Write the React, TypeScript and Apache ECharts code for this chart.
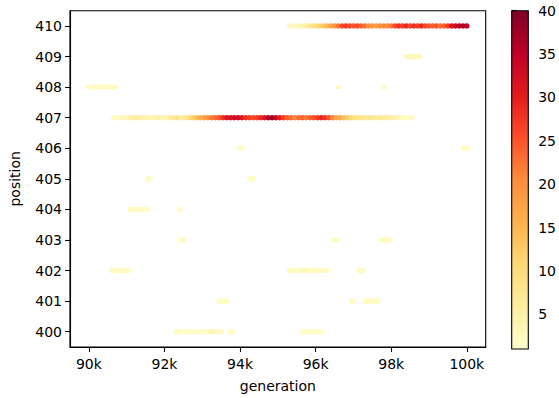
import React, { useEffect, useRef } from "react";
import * as echarts from "echarts";

// Each segment: [position, first generation, generation step, values]
type Seg = [number, number, number, number[]];

const xTicks = [90000, 92000, 94000, 96000, 98000, 100000];
const yTicks = [400, 401, 402, 403, 404, 405, 406, 407, 408, 409, 410];
const cbTicks = [5, 10, 15, 20, 25, 30, 35, 40];
const cbMin = 1;
const cbMax = 40;
const ylOrRd = ["#ffffcc", "#ffeda0", "#fed976", "#feb24c", "#fd8d3c", "#fc4e2a", "#e31a1c", "#bd0026", "#800026"];

const pos400: Seg[] = [
  [400, 92300, 100, [2, 2, 1, 2, 2, 2, 2, 2, 2, 3, 4, 3, 2]],
  [400, 93750, 50, [2, 2]],
  [400, 95650, 100, [2, 2, 2, 2, 2, 2]],
];
const pos401: Seg[] = [
  [401, 93450, 50, [2, 2, 2, 2, 2]],
  [401, 96950, 50, [2, 2]],
  [401, 97300, 50, [2, 2, 2, 2, 2, 2, 2, 2]],
];
const pos402: Seg[] = [
  [402, 90600, 50, [2, 2, 2, 2, 2, 2, 2, 2, 2, 2]],
  [402, 95300, 100, [2, 2, 2, 3, 4, 3, 2, 2, 2, 2, 2]],
  [402, 97150, 50, [2, 2, 2]],
];
const pos403: Seg[] = [
  [403, 92400, 50, [2, 2, 2]],
  [403, 96500, 50, [2, 2]],
  [403, 97750, 50, [2, 2, 2, 2, 2]],
];
const pos404: Seg[] = [
  [404, 91100, 50, [2, 2, 2, 2, 2, 2, 2, 2, 2, 2]],
  [404, 92400, 50, [2]],
];
const pos405: Seg[] = [
  [405, 91550, 50, [2, 2]],
  [405, 94250, 50, [2, 2, 2]],
];
const pos406: Seg[] = [
  [406, 94000, 50, [2, 2]],
  [406, 99900, 50, [2, 2, 2]],
];
const pos407: Seg[] = [
  [407, 90650, 100, [
    2, 2, 3, 3, 4, 6, 6, 5, 4, 4,
    3, 4, 5, 4, 4, 6, 7, 8, 6, 7,
    9, 12, 14, 16, 18, 20, 22, 23, 25, 28,
    31, 32, 33, 33, 31, 28, 27, 26, 27, 29,
    31, 35, 38, 34, 30, 27, 24, 23, 21, 23,
    24, 22, 24, 25, 27, 29, 28, 25, 21, 17,
    16, 14, 12, 10, 9, 8, 8, 7, 8, 7,
    6, 7, 6, 6, 5, 4, 3, 2, 2, 2,
  ]],
];
const pos408: Seg[] = [
  [408, 90000, 100, [2, 2, 2, 2, 2, 2, 2, 2]],
  [408, 96600, 100, [2]],
  [408, 97800, 100, [2]],
];
const pos409: Seg[] = [
  [409, 98400, 50, [3, 3, 3, 3, 3, 3, 3, 3]],
];
const pos410: Seg[] = [
  [410, 95300, 100, [
    2, 3, 3, 4, 5, 6, 8, 9, 11, 13,
    15, 17, 19, 22, 26, 27, 26, 25, 26, 24,
    23, 20, 19, 18, 20, 21, 20, 22, 26, 28,
    27, 29, 26, 28, 27, 29, 26, 25, 24, 25,
    23, 24, 27, 31, 33, 35, 36, 35,
  ]],
];

const allSegs: Seg[] = [
  ...pos400, ...pos401, ...pos402, ...pos403, ...pos404, ...pos405,
  ...pos406, ...pos407, ...pos408, ...pos409, ...pos410,
];

const FONT = "DejaVu Sans";

export default function App() {
  const ref = useRef<HTMLDivElement>(null);
  useEffect(() => {
    if (!ref.current) return;
    const chart = echarts.init(ref.current, null, { renderer: "svg" });
    const data: number[][] = [];
    allSegs.forEach(([p, start, step, vals]) => {
      vals.forEach((v, i) => data.push([start + i * step, p, v]));
    });
    const stops = ylOrRd.map((c, i) => ({ offset: i / (ylOrRd.length - 1), color: c }));
    const axisLabelStyle = { color: "#000", fontFamily: FONT, fontSize: 14 };
    chart.setOption({
      animation: false,
      backgroundColor: "#fff",
      grid: [
        { left: 68.3, top: 10.7, width: 417.4, height: 338.3, show: true, borderColor: "#000", borderWidth: 1.1, backgroundColor: "transparent" },
        { left: 511.7, top: 10.7, width: 16.6, height: 338.3, show: false },
      ],
      visualMap: {
        type: "continuous",
        show: false,
        min: cbMin,
        max: cbMax,
        dimension: 2,
        seriesIndex: 0,
        inRange: { color: ylOrRd },
      },
      xAxis: [
        {
          type: "value",
          gridIndex: 0,
          min: 89500,
          max: 100500,
          name: "generation",
          nameLocation: "middle",
          nameGap: 32,
          nameTextStyle: { color: "#000", fontFamily: FONT, fontSize: 14 },
          axisLine: { show: true, lineStyle: { color: "#000", width: 1.1 } },
          axisTick: { show: true, length: 4.9, lineStyle: { color: "#000", width: 1.1 }, customValues: xTicks },
          axisLabel: { ...axisLabelStyle, margin: 10, customValues: xTicks, formatter: (v: number) => `${Math.round(v / 1000)}k` },
          splitLine: { show: false },
        },
        { type: "value", gridIndex: 1, min: 0, max: 1, show: false },
      ],
      yAxis: [
        {
          type: "value",
          gridIndex: 0,
          min: 399.5,
          max: 410.5,
          name: "position",
          nameLocation: "middle",
          nameGap: 48,
          nameTextStyle: { color: "#000", fontFamily: FONT, fontSize: 14 },
          axisLine: { show: true, lineStyle: { color: "#000", width: 1.1 } },
          axisTick: { show: true, length: 4.9, lineStyle: { color: "#000", width: 1.1 }, customValues: yTicks },
          axisLabel: { ...axisLabelStyle, margin: 8, customValues: yTicks, formatter: (v: number) => `${Math.round(v)}` },
          splitLine: { show: false },
        },
        {
          type: "value",
          gridIndex: 1,
          position: "right",
          min: cbMin,
          max: cbMax,
          axisLine: { show: false },
          axisTick: { show: true, length: 4.9, lineStyle: { color: "#000", width: 1.1 }, customValues: cbTicks },
          axisLabel: { ...axisLabelStyle, margin: 10, customValues: cbTicks, formatter: (v: number) => `${Math.round(v)}` },
          splitLine: { show: false },
        },
      ],
      graphic: [
        {
          type: "rect",
          shape: { x: 511.7, y: 10.7, width: 16.6, height: 338.3 },
          style: {
            fill: new echarts.graphic.LinearGradient(0, 1, 0, 0, stops),
            stroke: "#000",
            lineWidth: 1.1,
          },
          z: 10,
        },
      ],
      series: [
        {
          type: "scatter",
          xAxisIndex: 0,
          yAxisIndex: 0,
          symbol: "circle",
          symbolSize: 5.5,
          data,
          itemStyle: { opacity: 1 },
          emphasis: { disabled: true },
        },
      ],
    });
    return () => chart.dispose();
  }, []);
  return <div ref={ref} style={{ width: 559, height: 398, position: "absolute", left: 0, top: 0 }} />;
}
